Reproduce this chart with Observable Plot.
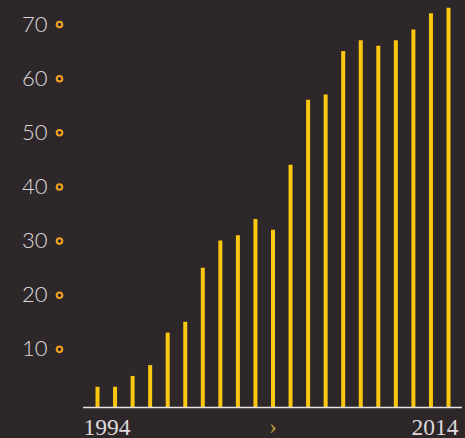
<!DOCTYPE html>
<html>
<head>
<meta charset="utf-8">
<script src="https://cdn.jsdelivr.net/npm/d3@7"></script>
<script src="https://cdn.jsdelivr.net/npm/@observablehq/plot@0.6"></script>
<style>
  html, body { margin: 0; padding: 0; background: #2e272a; }
  #chart svg { display: block; }
</style>
</head>
<body>
<div id="chart"></div>
<script>
const years = [1994,1995,1996,1997,1998,1999,2000,2001,2002,2003,2004,2005,2006,2007,2008,2009,2010,2011,2012,2013,2014];
const values = [3,3,5,7,13,15,25,30,31,34,32,44,56,57,65,67,66,67,69,72,73];
const yTicks = [10,20,30,40,50,60,70];
const xTickLabels = [{year: 1994, label: "1994"}, {year: 2014, label: "2014"}];
const midMarker = [{year: 2004, label: "›"}];

const data = years.map((y, i) => ({year: y, value: values[i]}));

const chart = Plot.plot({
  width: 465,
  height: 438,
  marginLeft: 97,
  marginRight: 17,
  marginTop: 2.4,
  marginBottom: 35,
  style: {background: "#2e272a", color: "#ddd9da"},
  x: {domain: [1994, 2014], axis: null},
  y: {domain: [0, 74], axis: null},
  marks: [
    Plot.ruleX(data, {x: "year", y1: "value", y2: 0, stroke: "#fcc70f", strokeWidth: 4, insetBottom: -4}),
    Plot.ruleY([0], {stroke: "#e8e4e4", strokeWidth: 1.5, dy: 4, insetLeft: -14, insetRight: -14}),
    Plot.text(yTicks, {y: d => d, text: d => String(d), frameAnchor: "left", dx: -50, textAnchor: "end",
      fontFamily: "Lato", fontWeight: 300, fontSize: 22, fill: "#ddd9da"}),
    Plot.dot(yTicks, {y: d => d, frameAnchor: "left", dx: -38, r: 2.8, stroke: "#f5a31f", strokeWidth: 2, fill: "none"}),
    Plot.text(xTickLabels.slice(0,1), {x: "year", text: "label", frameAnchor: "bottom", dx: -14, dy: 31, textAnchor: "start", lineAnchor: "bottom",
      fontFamily: "Liberation Serif", fontSize: 23.5, fill: "#ddd9da"}),
    Plot.text(xTickLabels.slice(1), {x: "year", text: "label", frameAnchor: "bottom", dx: 10, dy: 31, textAnchor: "end", lineAnchor: "bottom",
      fontFamily: "Liberation Serif", fontSize: 23.5, fill: "#ddd9da"}),
    Plot.text(midMarker, {x: "year", text: "label", frameAnchor: "bottom", dy: 30, textAnchor: "middle", lineAnchor: "bottom",
      fontFamily: "Liberation Serif", fontSize: 24, fill: "#b89a3a"})
  ]
});
document.getElementById("chart").appendChild(chart);
</script>
</body>
</html>
